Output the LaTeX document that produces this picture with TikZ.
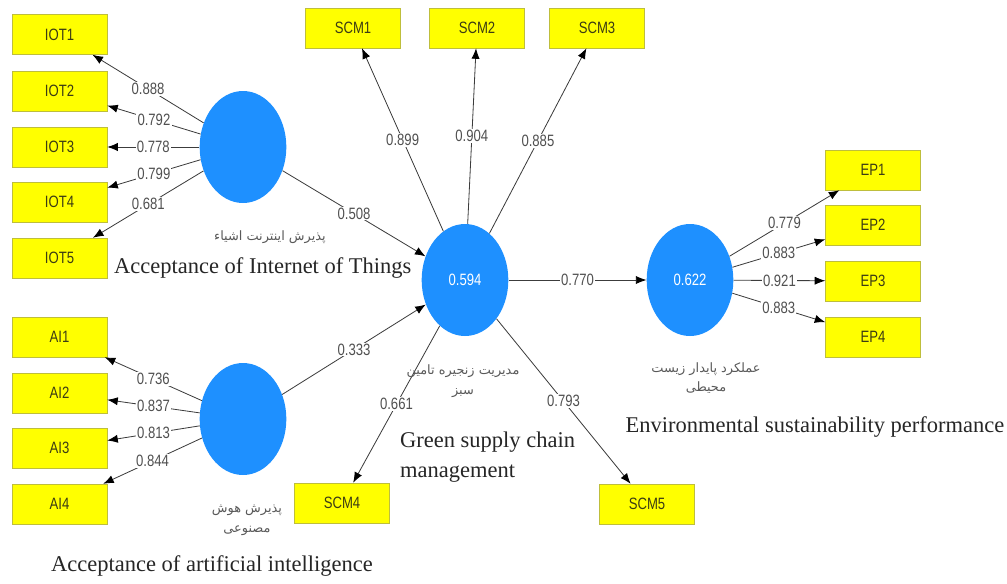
\documentclass[tikz,border=0pt]{standalone}
\usepackage{fontspec}
\setmainfont{Liberation Serif}
\newfontfamily\plsfont[FakeStretch=0.8]{Liberation Sans}
\newfontfamily\farsifont[Script=Arabic]{DejaVu Sans}
\TeXXeTstate=1
\usetikzlibrary{arrows.meta,shapes.geometric}
\definecolor{lvblue}{RGB}{30,144,255}
\definecolor{mvyellow}{RGB}{255,255,0}
\definecolor{mvedge}{RGB}{190,190,60}
\definecolor{mvtext}{RGB}{60,60,20}
\definecolor{pathgray}{RGB}{60,60,60}
\definecolor{coefgray}{RGB}{80,80,80}
\tikzset{
  mv/.style={draw=mvedge, fill=mvyellow, minimum width=2.85cm, minimum height=1.2cm,
    inner sep=0pt, text=mvtext, font=\plsfont\fontsize{14}{16}\selectfont},
  lv/.style={ellipse, fill=lvblue, minimum width=2.6cm, minimum height=3.36cm,
    inner sep=0pt, text=white, font=\plsfont\fontsize{14}{16}\selectfont},
  load/.style={draw=pathgray, line width=0.7pt, -{Latex[length=9pt,width=7pt,color=black]}},
  coef/.style={fill=white, inner sep=1pt, text=coefgray, font=\plsfont\fontsize{14}{16}\selectfont},
  fa/.style={align=center, text=black!65, font=\farsifont\fontsize{11}{17}\selectfont},
  en/.style={align=left, text=black!85, font=\fontsize{19.2}{26}\selectfont}
}
\begin{document}
\begin{tikzpicture}[x=0.03cm, y=-0.03cm]
	\useasboundingbox (0,0) rectangle (1007,583);
	% latent variables
	\node[lv] (iot) at (243,147) {};
	\node[lv] (ai) at (243,419) {};
	\node[lv] (scm) at (465,280) {0.594};
	\node[lv] (ep) at (690,280) {0.622};
	
	% indicators of IOT
	\node[mv] (iot1) at (59.5,34.5) {IOT1};
	\node[mv] (iot2) at (59.5,91) {IOT2};
	\node[mv] (iot3) at (59.5,147) {IOT3};
	\node[mv] (iot4) at (59.5,202) {IOT4};
	\node[mv] (iot5) at (59.5,258) {IOT5};
	
	% indicators of AI
	\node[mv] (ai1) at (59.5,337) {AI1};
	\node[mv] (ai2) at (59.5,393) {AI2};
	\node[mv] (ai3) at (59.5,448) {AI3};
	\node[mv] (ai4) at (59.5,504) {AI4};
	
	% indicators of SCM
	\node[mv] (scm1) at (353,28) {SCM1};
	\node[mv] (scm2) at (477,28) {SCM2};
	\node[mv] (scm3) at (597,28) {SCM3};
	\node[mv] (scm4) at (342,503) {SCM4};
	\node[mv] (scm5) at (647,504) {SCM5};
	
	% indicators of EP
	\node[mv] (ep1) at (873,170) {EP1};
	\node[mv] (ep2) at (873,225) {EP2};
	\node[mv] (ep3) at (873,281) {EP3};
	\node[mv] (ep4) at (873,337) {EP4};
	
	% outer loadings
	\draw[load] (iot) -- node[coef] {0.888} (iot1);
	\draw[load] (iot) -- node[coef] {0.792} (iot2);
	\draw[load] (iot) -- node[coef] {0.778} (iot3);
	\draw[load] (iot) -- node[coef] {0.799} (iot4);
	\draw[load] (iot) -- node[coef] {0.681} (iot5);
	
	\draw[load] (ai) -- node[coef] {0.736} (ai1);
	\draw[load] (ai) -- node[coef] {0.837} (ai2);
	\draw[load] (ai) -- node[coef] {0.813} (ai3);
	\draw[load] (ai) -- node[coef] {0.844} (ai4);
	
	\draw[load] (scm) -- node[coef] {0.899} (scm1);
	\draw[load] (scm) -- node[coef] {0.904} (scm2);
	\draw[load] (scm) -- node[coef] {0.885} (scm3);
	\draw[load] (scm) -- node[coef] {0.661} (scm4);
	\draw[load] (scm) -- node[coef] {0.793} (scm5);
	
	\draw[load] (ep) -- node[coef] {0.779} (ep1);
	\draw[load] (ep) -- node[coef] {0.883} (ep2);
	\draw[load] (ep) -- node[coef] {0.921} (ep3);
	\draw[load] (ep) -- node[coef] {0.883} (ep4);
	
	% path coefficients
	\draw[load] (iot) -- node[coef] {0.508} (scm);
	\draw[load] (ai) -- node[coef] {0.333} (scm);
	\draw[load] (scm) -- node[coef] {0.770} (ep);
	
	% construct names
	\node[fa] (iotfa) at (270,237) {\beginR پذیرش اینترنت اشیاء\endR};
	\node[fa] (aifa) at (247,520) {\beginR پذیرش هوش\endR\\\beginR مصنوعی\endR};
	\node[fa] (scmfa) at (463,381) {\beginR مدیریت زنجیره تامین\endR\\\beginR سبز\endR};
	\node[fa] (epfa) at (706,378) {\beginR عملکرد پایدار زیست\endR\\\beginR محیطی\endR};
	
	\node[en, anchor=west] (ioten) at (110,268) {Acceptance of Internet of Things};
	\node[en] (aien) at (212,566) {Acceptance of artificial intelligence};
	\node[en, anchor=west] (scmen) at (396,457) {Green supply chain\\management};
	\node[en] (epen) at (815,427) {Environmental sustainability performance};
	
\end{tikzpicture}
\end{document}
